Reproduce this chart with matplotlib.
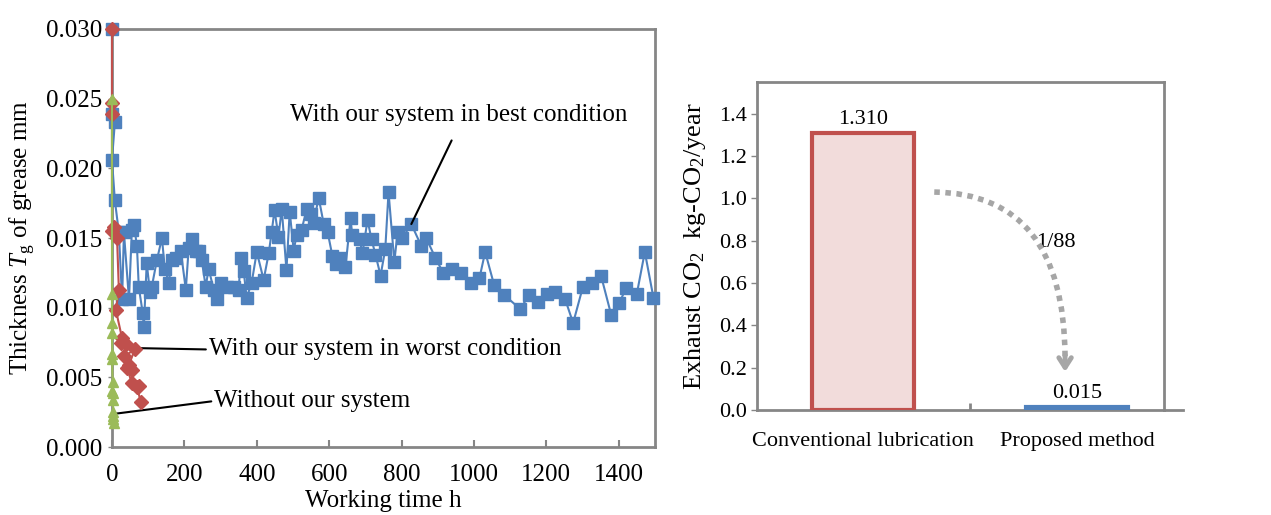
import numpy as np
import matplotlib.pyplot as plt
from matplotlib.patches import FancyArrowPatch

plt.rcParams['font.family'] = ['Liberation Serif', 'DejaVu Serif']
plt.rcParams['mathtext.fontset'] = 'custom'
plt.rcParams['mathtext.rm'] = 'Liberation Serif'
plt.rcParams['mathtext.it'] = 'Liberation Serif:italic'

# ---- left chart data (working time h, thickness mm)
best_h = [0, 0, 8, 0, 8, 19, 28, 33, 47, 55, 61, 69, 74, 85, 88, 96, 105, 110, 124, 138,
          146, 157, 165, 176, 190, 204, 212, 221, 232, 240, 248, 259, 267, 281, 290, 300,
          317, 336, 350, 356, 364, 372, 386, 400, 419, 433, 441, 449, 460, 469, 482, 491,
          502, 510, 524, 538, 549, 557, 571, 585, 596, 609, 620, 631, 645, 659, 664, 684,
          692, 706, 717, 728, 742, 755, 764, 780, 789, 802, 827, 855, 868, 893, 915, 940,
          965, 993, 1015, 1031, 1056, 1084, 1128, 1152, 1177, 1202, 1224, 1252, 1274, 1301,
          1326, 1351, 1379, 1401, 1420, 1450, 1472, 1496]
best_t = [0.0300, 0.0239, 0.0233, 0.0206, 0.0177, 0.0154, 0.0106, 0.0154, 0.0106, 0.0156,
          0.0159, 0.0144, 0.0115, 0.0096, 0.0086, 0.0132, 0.0111, 0.0115, 0.0134, 0.0150,
          0.0128, 0.0118, 0.0134, 0.0136, 0.0141, 0.0113, 0.0143, 0.0149, 0.0141, 0.0141,
          0.0134, 0.0115, 0.0128, 0.0113, 0.0106, 0.0118, 0.0115, 0.0115, 0.0113, 0.0136,
          0.0126, 0.0107, 0.0118, 0.0140, 0.0120, 0.0139, 0.0154, 0.0170, 0.0151, 0.0171,
          0.0127, 0.0169, 0.0141, 0.0152, 0.0156, 0.0171, 0.0167, 0.0161, 0.0179, 0.0160,
          0.0154, 0.0137, 0.0131, 0.0136, 0.0129, 0.0164, 0.0152, 0.0149, 0.0139, 0.0163,
          0.0149, 0.0138, 0.0123, 0.0142, 0.0183, 0.0133, 0.0154, 0.0150, 0.0160, 0.0144,
          0.0150, 0.0136, 0.0125, 0.0128, 0.0125, 0.0118, 0.0121, 0.0140, 0.0116, 0.0109,
          0.0099, 0.0109, 0.0104, 0.0110, 0.0111, 0.0106, 0.0089, 0.0115, 0.0118, 0.0123,
          0.0095, 0.0103, 0.0114, 0.0110, 0.0140, 0.0107]

worst_h = [0, 0, 0, 0, 5, 14, 19, 11, 28, 25, 39, 33, 63, 47, 55, 41, 55, 74, 69, 80]
worst_t = [0.0300, 0.0247, 0.0239, 0.0155, 0.0158, 0.0150, 0.0113, 0.0098, 0.0078, 0.0075,
           0.0074, 0.0065, 0.0070, 0.0059, 0.0055, 0.0057, 0.0046, 0.0044, 0.0043, 0.0032]

without_h = [0, 0, 0, 0, 1, 0, 2, 0, 3, 2, 4, 3, 5, 4]
without_t = [0.0250, 0.0110, 0.0089, 0.0082, 0.0067, 0.0063, 0.0047, 0.0040, 0.0039,
             0.0034, 0.0025, 0.0020, 0.0017, 0.0022]

# ---- right chart data
methods = ['Conventional lubrication', 'Proposed method']
co2 = [1.310, 0.015]
co2_labels = ['1.310', '0.015']

blue = '#4F81BD'
red = '#C0504D'
green = '#9BBB59'
grey = '#868686'
arrow_grey = '#A6A6A6'

fig = plt.figure(figsize=(12.71, 5.15), dpi=100)

# left chart
ax = fig.add_axes([0.0881, 0.132, 0.4272, 0.8117])
ax.plot(best_h, best_t, color=blue, marker='s', markersize=8, lw=1.5, zorder=3, clip_on=False)
ax.plot(worst_h, worst_t, color=red, marker='D', markersize=7, lw=1.5, zorder=4, clip_on=False)
ax.plot(without_h, without_t, color=green, marker='^', markersize=6.5, lw=1.5, zorder=5, clip_on=False)
ax.set_xlim(0, 1500)
ax.set_ylim(0, 0.030)
ax.set_xticks(np.arange(0, 1401, 200))
ax.set_yticks(np.arange(0, 0.0301, 0.005))
ax.set_yticklabels(['%.3f' % v for v in np.arange(0, 0.0301, 0.005)])
for s in ax.spines.values():
    s.set_color(grey)
    s.set_linewidth(2)
ax.tick_params(axis='x', direction='in', length=5, color=grey, width=1.5, labelsize=18, pad=12)
ax.tick_params(axis='y', direction='out', length=3, color=grey, width=1, labelsize=18, pad=4)
ax.set_ylabel(r'Thickness $\mathit{T}_{\mathrm{g}}$ of grease mm', fontsize=18, labelpad=6)
ax.set_xlabel('Working time h', fontsize=18, labelpad=3)

ax.annotate('With our system in best condition', xy=(827, 0.0160), xytext=(957, 0.0238),
            fontsize=18, ha='center', va='center',
            arrowprops=dict(arrowstyle='-', color='black', lw=1.5, shrinkA=9, shrinkB=0,
                            relpos=(0.5, 0)))
ax.annotate('With our system in worst condition', xy=(66, 0.0071), xytext=(267, 0.0070),
            fontsize=18, ha='left', va='center',
            arrowprops=dict(arrowstyle='-', color='black', lw=1.5, shrinkA=0, shrinkB=0,
                            relpos=(0, 0.5)))
ax.annotate('Without our system', xy=(12, 0.0024), xytext=(282, 0.0033),
            fontsize=18, ha='left', va='center',
            arrowprops=dict(arrowstyle='-', color='black', lw=1.5, shrinkA=0, shrinkB=0,
                            relpos=(0, 0.5)))

# right chart
bx = fig.add_axes([0.5956, 0.2039, 0.3202, 0.6369])
pos = np.arange(len(methods))
bx.bar(pos[0], co2[0], width=0.48, color='#F2DCDB', edgecolor=red, linewidth=3, zorder=3)
bx.bar(pos[1], co2[1], width=0.48, color=blue, edgecolor=blue, linewidth=3, zorder=3)
for p, v, lab in zip(pos, co2, co2_labels):
    bx.text(p, v + 0.02, lab, ha='center', va='bottom', fontsize=16)
bx.set_xlim(-0.495, 1.406)
bx.set_ylim(0, 1.55)
bx.set_yticks(np.arange(0, 1.41, 0.2))
bx.set_yticklabels(['%.1f' % v for v in np.arange(0, 1.41, 0.2)])
bx.set_xticks(pos)
bx.set_xticklabels(methods)
bx.set_xticks([0.5], minor=True)
for s in bx.spines.values():
    s.set_color(grey)
    s.set_linewidth(2)
bx.plot([1, 1.047], [0, 0], transform=bx.transAxes, color=grey, lw=2, clip_on=False)
bx.tick_params(axis='x', which='major', length=0, labelsize=16, pad=16)
bx.tick_params(axis='x', which='minor', direction='in', length=5, color=grey, width=2)
bx.tick_params(axis='y', direction='out', length=4, color=grey, width=1, labelsize=16)
bx.set_ylabel(r'Exhaust CO$_2$  kg-CO$_2$/year', fontsize=19, labelpad=8)

# dotted curved arrow from the big bar down to the small one
curve = FancyArrowPatch((0.32, 1.03), (0.944, 0.24), connectionstyle='angle3,angleA=0,angleB=90',
                        arrowstyle='-', linestyle=(0, (1, 1)), color=arrow_grey, lw=4,
                        capstyle='butt', zorder=4)
bx.add_patch(curve)
bx.annotate('', xy=(0.944, 0.18), xytext=(0.944, 0.26),
            arrowprops=dict(arrowstyle='->,head_length=0.7,head_width=0.45', color=arrow_grey,
                            lw=3.5, shrinkA=0, shrinkB=0), zorder=4)
bx.text(0.90, 0.79, '1/88', ha='center', va='center', fontsize=16)

fig.savefig('out.png', dpi=100)
